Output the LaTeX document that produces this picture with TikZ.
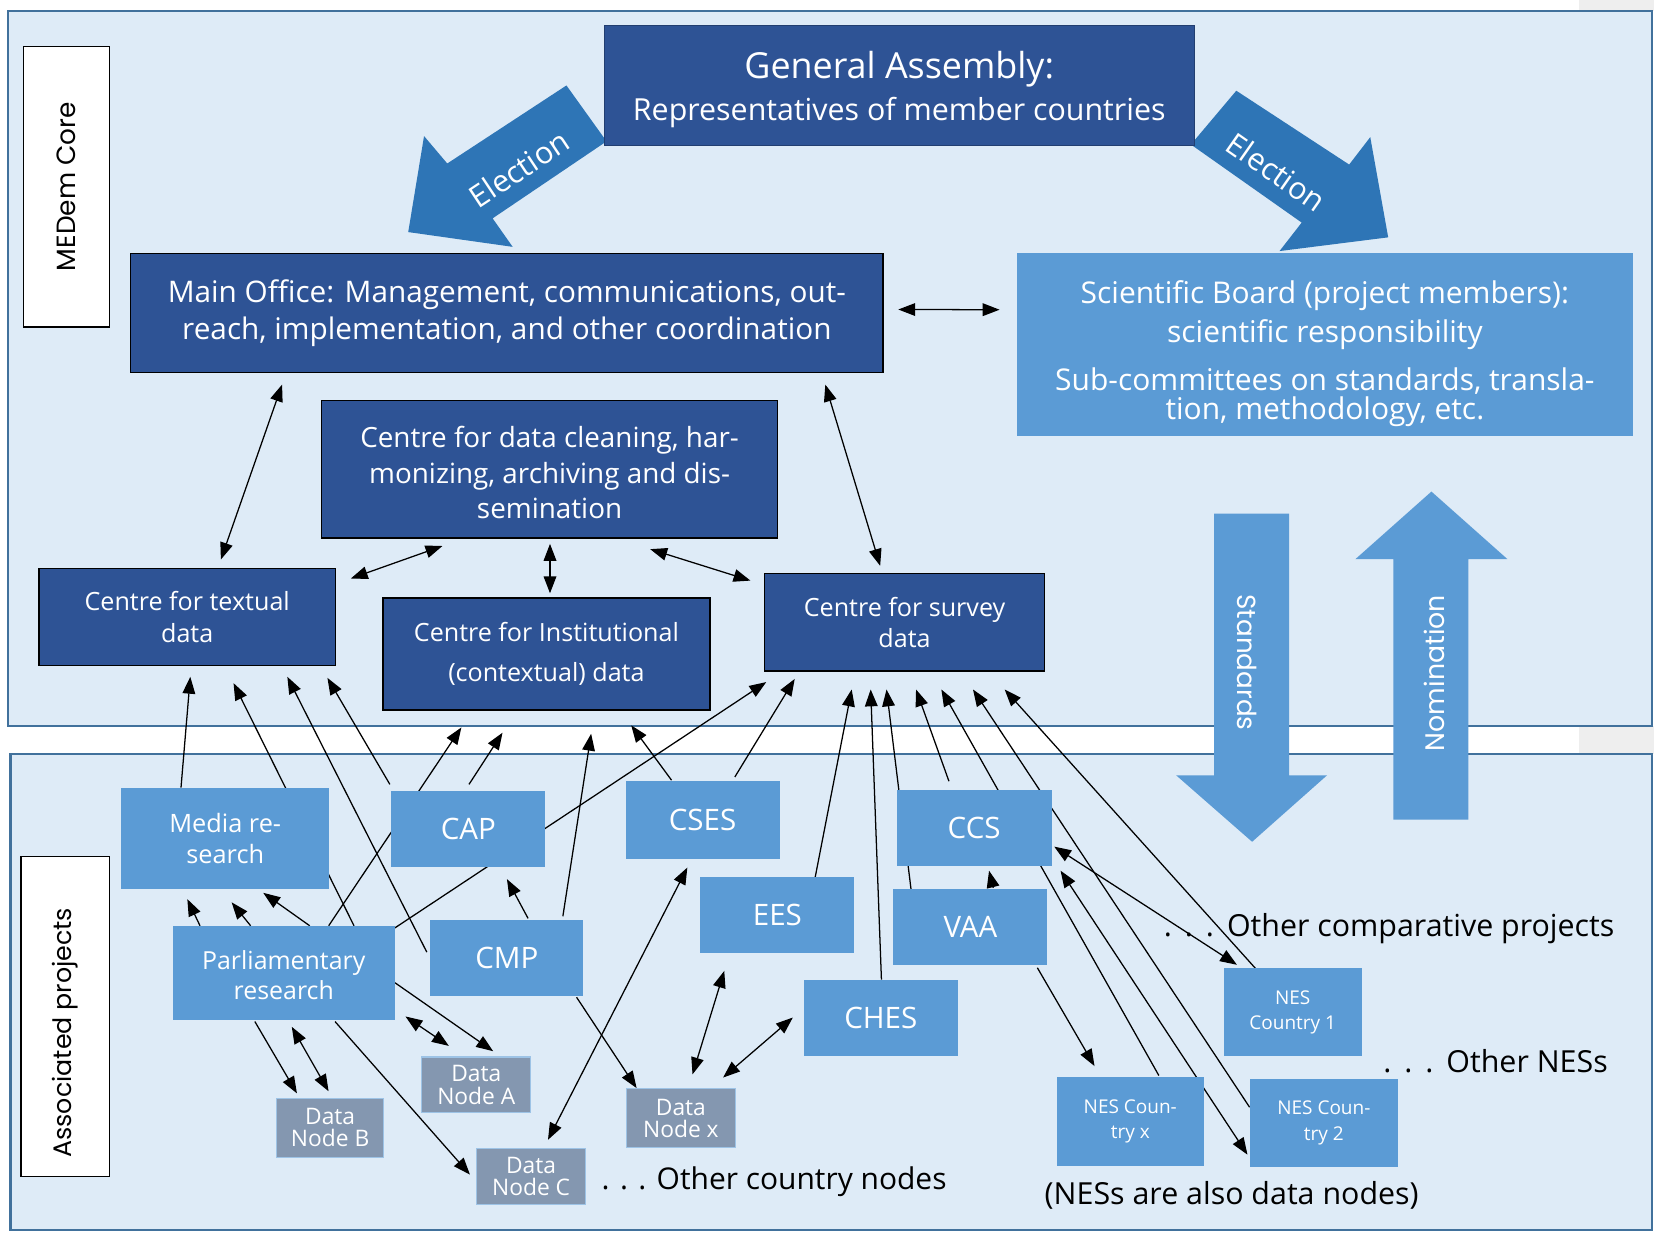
\documentclass[tikz,border=0pt]{standalone}
\usepackage{fontspec}
\setmainfont{Open Sans}
\newfontfamily\geofont{Poppins}
\usetikzlibrary{arrows.meta,calc}
\definecolor{panelfill}{HTML}{DEEBF7}
\definecolor{panelline}{HTML}{41719C}
\definecolor{darkblue}{HTML}{2E5395}
\definecolor{midblue}{HTML}{5B9BD5}
\definecolor{electblue}{HTML}{2E75B6}
\definecolor{datafill}{HTML}{8497B0}
\definecolor{dataline}{HTML}{9DC3E6}
\definecolor{edgegray}{HTML}{EEEEEE}
\pgfdeclarelayer{panels}
\pgfdeclarelayer{links}
\pgfsetlayers{panels,links,main}
\newcommand\fsz[2]{\fontsize{#1}{#2}\selectfont}
% invisible strut that sets the height of a first text line
\newcommand\tall[1]{\rule{0pt}{#1}}
\begin{document}
\begin{tikzpicture}[x=0.5pt,y=-0.5pt,
  % a box given by its corners x1/y1/x2/y2
  rect/.style args={#1/#2/#3/#4}{minimum width={(#3-#1)*0.5pt}, minimum height={(#4-#2)*0.5pt},
    at={({(#1+#3)/2},{(#2+#4)/2})}},
  box/.style={inner sep=0pt, align=center, text=white},
  darkbox/.style={box, fill=darkblue, draw=black, line width=0.6pt},
  midbox/.style={box, fill=midblue},
  databox/.style={box, fill=datafill, draw=dataline, line width=0.5pt, font=\fsz{10.8}{10.5}},
  nesbox/.style={midbox, font=\fsz{9}{12}},
  projbox/.style={midbox, font=\fsz{14}{17}},
  labelbox/.style={inner sep=0pt, fill=white, draw=black, line width=0.6pt},
  link/.style={draw=black, line width=0.6pt, -{Triangle[length=8pt,width=6pt]}},
  link2/.style={draw=black, line width=0.6pt, {Triangle[length=8pt,width=6pt]}-{Triangle[length=8pt,width=6pt]}},
  note/.style={anchor=west, inner sep=0pt, text=black, font=\fsz{14.4}{17}},
]
\useasboundingbox (0,0) rectangle (1568,1169);

% panels
\begin{pgfonlayer}{panels}
  \fill[edgegray] (1497,0) rectangle (1568,10);
  \fill[edgegray] (1497,688) rectangle (1568,715);
  \filldraw[fill=panelfill, draw=panelline, line width=1pt] (8,10) rectangle (1566,688);
  \filldraw[fill=panelfill, draw=panelline, line width=1pt] (10,715) rectangle (1566,1166);
\end{pgfonlayer}

% side labels
\node[labelbox, rect=22/44/104/310] (corebox) {};
\node[rotate=90, font=\geofont\fsz{12.5}{14}] (coretext) at (corebox.center) {MEDem Core};
\node[labelbox, rect=20/812/104/1115] (assocbox) {};
\node[rotate=90, font=\geofont\fsz{12}{14}] (assoctext) at (62,979) {Associated projects};

% election arrows
\fill[electblue] (537,81) -- (424,155) -- (402,129) -- (387,220) -- (486,234) -- (467,207) -- (575,134) -- cycle;
\fill[electblue] (1172,86) -- (1279,156) -- (1299,130) -- (1316,225) -- (1213,238) -- (1234,211) -- (1129,137) -- cycle;
\node[rotate=33.6, text=white, font=\fsz{14.5}{17}] (electL) at (492,160) {Election};
\node[rotate=-35, text=white, font=\fsz{14.5}{17}] (electR) at (1210,163) {Election};

% standards and nomination arrows
\fill[midblue] (1151,487) -- (1222,487) -- (1222,735) -- (1258,735) -- (1187,798) -- (1115,735) -- (1151,735) -- cycle;
\fill[midblue] (1321,777) -- (1392,777) -- (1392,530) -- (1429,530) -- (1357,466) -- (1285,530) -- (1321,530) -- cycle;
\node[rotate=-90, text=white, font=\geofont\fsz{12.4}{14}] (stdtext) at (1182,628) {Standards};
\node[rotate=90, text=white, font=\geofont\fsz{12.7}{14}] (nomtext) at (1360,638) {Nomination};

% core boxes
\node[box, fill=darkblue, draw=darkblue!75!black, line width=0.5pt, rect=573/24/1132/138, font=\fsz{14.4}{20}] (ga)
  {{\fsz{17}{20}\tall{17pt}General Assembly:}\\Representatives of member countries};
\node[darkbox, rect=124/240/837/353, font=\fsz{14.1}{17.5}] (office)
  {Main Office: Management, communications, out-\\reach, implementation, and other coordination};
\node[midbox, rect=964/240/1548/413, font=\fsz{14.2}{13.5}] (sci)
  {\tall{19.3pt}Scientific Board (project members):\\[3.5pt]scientific responsibility\\[7.5pt]Sub-committees on standards, transla-\\tion, methodology, etc.};
\node[darkbox, rect=305/380/737/510, font=\fsz{13.2}{16.75}] (clean)
  {\tall{13pt}Centre for data cleaning, har-\\monizing, archiving and dis-\\semination};
\node[darkbox, rect=37/539/318/631, font=\fsz{11.9}{15}] (textual)
  {Centre for textual\\data};
\node[darkbox, rect=363/567/673/673, font=\fsz{11.9}{19}] (inst)
  {Centre for Institutional\\(contextual) data};
\node[darkbox, rect=725/544/990/636, font=\fsz{11.9}{15}] (survey)
  {Centre for survey\\data};

% associated projects
\node[midbox, rect=115/747/312/843, font=\fsz{12}{15}] (media) {Media re-\\search};
\node[projbox, rect=371/750/517/822] (cap) {CAP};
\node[projbox, rect=593/740/739/814] (cses) {CSES};
\node[projbox, rect=850/749/997/821] (ccs) {CCS};
\node[projbox, rect=664/831/810/903] (ees) {EES};
\node[projbox, rect=847/843/993/915] (vaa) {VAA};
\node[midbox, rect=164/878/374/967, font=\fsz{11.8}{14.5}] (parl) {\tall{11pt}Parliamentary\\research};
\node[projbox, rect=408/872/553/944] (cmp) {CMP};
\node[projbox, rect=762/929/908/1001] (ches) {CHES};
\node[nesbox, rect=1160/918/1291/1001] (nes1) {NES\\Country 1};
\node[nesbox, rect=1002/1021/1141/1105] (nesx) {NES Coun-\\try x};
\node[nesbox, rect=1185/1023/1325/1106] (nes2) {NES Coun-\\try 2};

% data nodes
\node[databox, rect=400/1002/503/1055] (dna) {Data\\Node A};
\node[databox, rect=262/1041/364/1097] (dnb) {Data\\Node B};
\node[databox, rect=594/1032/697/1088] (dnx) {Data\\Node x};
\node[databox, rect=452/1089/555/1142] (dnc) {Data\\Node C};

% remarks
\node[note] (othercomp) at (1103,880) {.\ \,.\ \,.\ \,Other comparative projects};
\node[note] (othernes) at (1311,1006) {.\ \,.\ \,.\ \,Other NESs};
\node[note, font=\fsz{14.2}{17}] (othercountry) at (570,1120) {. . . Other country nodes};
\node[note] (nesnote) at (990,1133) {(NESs are also data nodes)};

% connectors
\begin{pgfonlayer}{links}
  % within the core
  \draw[link2] ($(office.south west)+(144,11)$) -- ($(textual.north west)+(173,-8)$);
  \draw[link2] ($(office.south west)+(659,11)$) -- ($(survey.north west)+(110,-7)$);
  \draw[link2] ($(clean.south west)+(115,7)$) -- ($(textual.north east)+(14,10)$);
  \draw[link2] ($(clean.south west)+(217,5)$) -- ($(inst.north west)+(159,-4)$);
  \draw[link2] ($(clean.south west)+(312,10)$) -- ($(survey.north west)+(-13,7)$);
  \draw[link2] ($(office.north east)+(14,54)$) -- ($(sci.north west)+(-16,54)$);
  % into the centre for textual data
  \draw[link] ($(media.north west)+(57,0)$) -- ($(textual.south west)+(144,10)$);
  \draw[link] ($(parl.north west)+(172,0)$) -- ($(textual.south west)+(185,16)$);
  \draw[link] ($(cmp.north west)+(-3,31)$) -- ($(textual.south west)+(236,10)$);
  \draw[link] ($(cap.north west)+(-1,-6)$) -- ($(textual.south west)+(274,11)$);
  % into the centre for institutional data
  \draw[link] ($(parl.north west)+(148,0)$) -- ($(inst.south west)+(75,16)$);
  \draw[link] ($(cap.north west)+(74,-6)$) -- ($(inst.south west)+(114,21)$);
  \draw[link] ($(cmp.north west)+(126,-3)$) -- ($(inst.south west)+(198,22)$);
  \draw[link] ($(cses.north west)+(44,0)$) -- ($(inst.south west)+(236,14)$);
  % into the centre for survey data
  \draw[link] ($(parl.north east)+(0,2)$) -- ($(survey.south west)+(2,10)$);
  \draw[link] ($(cses.north west)+(104,-3)$) -- ($(survey.south west)+(29,7)$);
  \draw[link] ($(ees.north west)+(109,2)$) -- ($(survey.south west)+(83,17)$);
  \draw[link] ($(ches.north west)+(74,0)$) -- ($(survey.south west)+(101,17)$);
  \draw[link] ($(vaa.north west)+(17,0)$) -- ($(survey.south west)+(116,17)$);
  \draw[link] ($(ccs.north west)+(50,-8)$) -- ($(survey.south west)+(144,17)$);
  \draw[link] ($(nesx.north west)+(97,-1)$) -- ($(survey.south west)+(168,17)$);
  \draw[link] ($(nes2.north west)+(0,27)$) -- ($(survey.south west)+(198,17)$);
  \draw[link] ($(nes1.north west)+(32,2)$) -- ($(survey.south west)+(228,17)$);
  % among the associated projects
  \draw[link] ($(cmp.north west)+(93,-1)$) -- ($(cap.south west)+(110,11)$);
  \draw[link] ($(parl.north west)+(26,0)$) -- ($(media.south west)+(63,9)$);
  \draw[link] ($(parl.north west)+(74,0)$) -- ($(media.south west)+(105,12)$);
  \draw[link] ($(parl.north west)+(130,0)$) -- ($(media.south west)+(135,3)$);
  \draw[link] ($(vaa.north west)+(95,-1)$) -- ($(ccs.south west)+(88,4)$);
  \draw[link2] ($(ccs.north east)+(2,54)$) -- ($(nes1.north west)+(13,-3)$);
  \draw[link2] ($(ccs.south east)+(8,4)$) -- ($(nes2.north west)+(-2,72)$);
  \draw[link] ($(vaa.south east)+(-10,2)$) -- ($(nesx.north west)+(36,-10)$);
  % to the data nodes
  \draw[link2] ($(cses.south west)+(59,8)$) -- ($(dnc.north west)+(68,-8)$);
  \draw[link] ($(parl.north east)+(0,54)$) -- ($(dna.north west)+(68,-5)$);
  \draw[link2] ($(parl.north east)+(10,86)$) -- ($(dna.north west)+(26,-10)$);
  \draw[link] ($(parl.south west)+(154,1)$) -- ($(dnc.north west)+(-6,25)$);
  \draw[link] ($(parl.south west)+(78,1)$) -- ($(dnb.north west)+(20,-4)$);
  \draw[link2] ($(parl.south west)+(113,6)$) -- ($(dnb.north west)+(50,-6)$);
  \draw[link] ($(cmp.south west)+(139,1)$) -- ($(dnx.north west)+(10,0)$);
  \draw[link2] ($(dnx.north west)+(63,-13)$) -- ($(ees.south west)+(23,17)$);
  \draw[link2] ($(dnx.north west)+(92,-10)$) -- ($(ches.north west)+(-10,36)$);
\end{pgfonlayer}
\end{tikzpicture}
\end{document}
